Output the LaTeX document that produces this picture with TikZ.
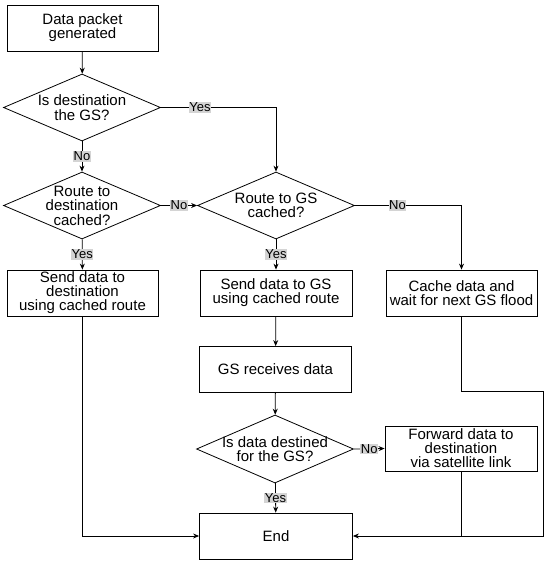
\documentclass[tikz,border=0pt]{standalone}
\usepackage{fontspec}
\setmainfont{Liberation Sans}
\usetikzlibrary{arrows.meta,positioning,shapes.geometric}
\definecolor{lblgray}{RGB}{212,212,212}

\begin{document}
\begin{tikzpicture}[x=1pt,y=-1pt,>={Stealth[length=6pt,width=5pt]},line width=0.8pt,
  box/.style={draw,align=center,font=\fontsize{15}{14}\selectfont,minimum width=151pt,minimum height=46pt,inner sep=1pt},
  dec/.style={draw,diamond,inner sep=0pt,minimum width=157pt,minimum height=67pt},
  txt/.style={align=center,font=\fontsize{15}{14.5}\selectfont},
  lbl/.style={fill=lblgray,font=\fontsize{13}{13}\selectfont,inner sep=0.6pt}]
\useasboundingbox (0,0) rectangle (550,563);
% left column
\node[box] (start) at (82.5,28) {Data packet\\generated};
\node[dec,label={[txt]center:Is destination\\the GS?}] (isgs) at (82,107.5) {};
\node[dec,label={[txt]center:Route to\\destination\\cached?}] (rdest) at (82,205.5) {};
\node[box] (senddest) at (82.5,293) {Send data to\\destination\\using cached route};
% middle column
\node[dec,label={[txt]center:Route to GS\\cached?}] (rgs) at (276,205.5) {};
\node[box,minimum width=152pt] (sendgs) at (276,293) {Send data to GS\\using cached route};
\node[box,minimum width=152pt] (recv) at (275.5,369.5) {GS receives data};
\node[dec,minimum height=68pt,label={[txt]center:Is data destined\\for the GS?}] (isdata) at (275,449) {};
\node[box,minimum width=153pt] (end) at (276,536) {End};
% right column
\node[box] (cache) at (461.5,293) {Cache data and\\wait for next GS flood};
\node[box,minimum width=152pt,minimum height=45pt] (fwd) at (461,448.5) {Forward data to\\destination\\via satellite link};
\coordinate (turn) at (543,391);
% connectors
\draw[->] (start)--(isgs);
\draw[->] (isgs)--node[lbl]{No}(rdest);
\draw[->] (isgs.east)-|node[lbl,pos=0.17]{Yes}(rgs.north);
\draw[->] (rdest)--node[lbl]{Yes}(senddest);
\draw[->] (rdest.east)--node[lbl]{No}(rgs.west);
\draw[->] (rgs.east)-|node[lbl,pos=0.2]{No}(cache.north);
\draw[->] (rgs)--node[lbl]{Yes}(sendgs);
\draw[->] (sendgs)--(recv);
\draw[->] (recv)--(isdata);
\draw[->] (isdata.east)--node[lbl]{No}(fwd.west);
\draw[->] (isdata)--node[lbl]{Yes}(end);
\draw[->] (senddest.south)|-(end.west);
\draw[->] (cache.south)|-(turn)|-(end.east);
\draw (fwd.south)--(fwd.south|-end.east);
\end{tikzpicture}
\end{document}
